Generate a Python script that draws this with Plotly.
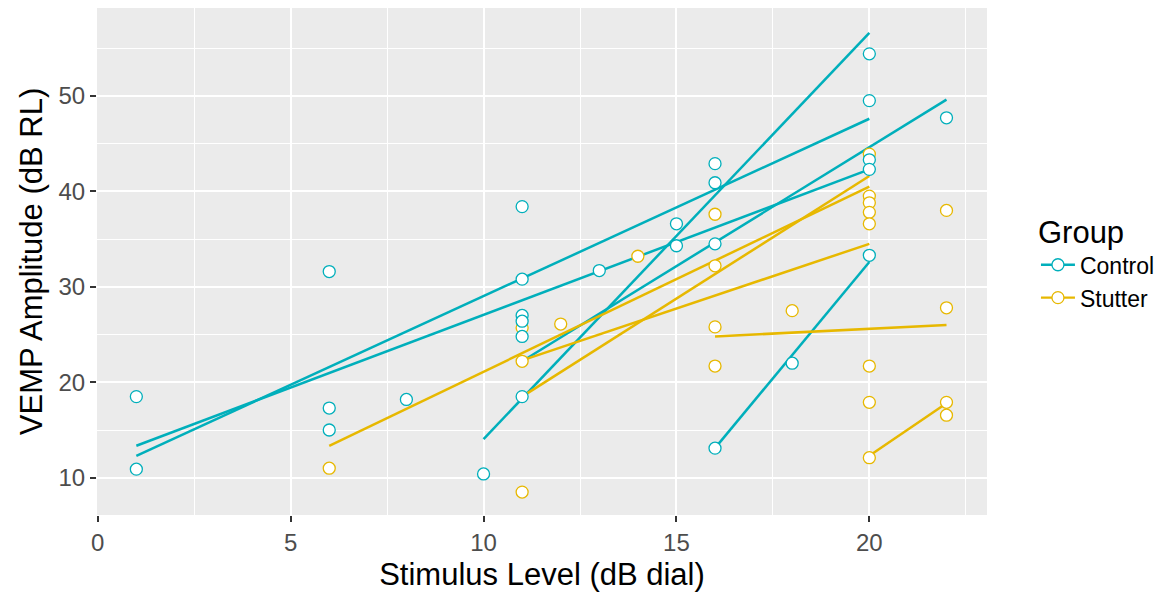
import plotly.graph_objects as go

# ---- data ----
control_x = [1, 1, 6, 6, 6, 8, 10, 11, 11, 11, 11, 11, 11, 13, 15, 15, 16, 16, 16, 16, 18, 20, 20, 20, 20, 20, 22]
control_y = [18.5, 10.9, 31.6, 17.3, 15.0, 18.2, 10.4, 38.4, 30.8, 27.0, 26.4, 24.8, 18.5, 31.7, 36.6, 34.3,
             42.9, 40.9, 34.5, 13.1, 22.0, 54.4, 49.5, 43.3, 42.3, 33.3, 47.7]

stutter_x = [6, 11, 11, 11, 12, 14, 16, 16, 16, 16, 18, 20, 20, 20, 20, 20, 20, 20, 20, 22, 22, 22, 22]
stutter_y = [11.0, 8.5, 22.2, 25.7, 26.1, 33.2, 37.6, 32.2, 25.8, 21.7, 27.5, 43.9, 39.5, 38.8, 37.8, 36.6,
             21.7, 17.9, 12.1, 38.0, 27.8, 17.9, 16.55]

# per-subject fitted lines (start / end)
control_line_x0 = [1, 1, 10, 11, 16]
control_line_y0 = [12.3, 13.35, 14.05, 22.2, 13.1]
control_line_x1 = [20, 20, 20, 22, 20]
control_line_y1 = [47.6, 42.3, 56.6, 49.6, 32.6]

stutter_line_x0 = [6, 11, 11, 16, 20]
stutter_line_y0 = [13.35, 18.5, 22.3, 24.8, 12.3]
stutter_line_x1 = [20, 20, 20, 22, 22]
stutter_line_y1 = [40.5, 41.6, 34.5, 26.0, 17.8]

groups = ["Control", "Stutter"]
colors = {"Control": "#00AFBB", "Stutter": "#E7B800"}

x_ticks = [0, 5, 10, 15, 20]
y_ticks = [10, 20, 30, 40, 50]

FONT = "Liberation Sans, Arial, Helvetica, sans-serif"


def segs(x0, y0, x1, y1):
    xs, ys = [], []
    for a, b, c, d in zip(x0, y0, x1, y1):
        xs += [a, c, None]
        ys += [b, d, None]
    return xs, ys


fig = go.Figure()

line_data = {
    "Control": segs(control_line_x0, control_line_y0, control_line_x1, control_line_y1),
    "Stutter": segs(stutter_line_x0, stutter_line_y0, stutter_line_x1, stutter_line_y1),
}
point_data = {"Control": (control_x, control_y), "Stutter": (stutter_x, stutter_y)}

for g in groups:
    lx, ly = line_data[g]
    fig.add_trace(go.Scatter(x=lx, y=ly, mode="lines", line=dict(color=colors[g], width=2.5),
                             showlegend=False, legendgroup=g, hoverinfo="skip"))

# stutter points first so overlapping control points sit on top
for g in reversed(groups):
    px, py = point_data[g]
    fig.add_trace(go.Scatter(x=px, y=py, mode="markers",
                             marker=dict(size=12, color="white", line=dict(color=colors[g], width=1.3)),
                             showlegend=False, legendgroup=g, name=g))

# legend entries (point + line key, like ggplot)
for g in groups:
    fig.add_trace(go.Scatter(x=[None], y=[None], mode="lines+markers", name=g, legendgroup=g,
                             line=dict(color=colors[g], width=2.4),
                             marker=dict(size=12, color="white", line=dict(color=colors[g], width=1.3))))

axis_common = dict(
    showgrid=True, gridcolor="white", gridwidth=2,
    zeroline=False, showline=False,
    ticks="outside", ticklen=6, tickwidth=2, tickcolor="#333333",
    tickfont=dict(family=FONT, size=24, color="#4D4D4D"),
    minor=dict(showgrid=True, gridcolor="white", gridwidth=1),
)

fig.update_xaxes(**axis_common, range=[-0.02, 23.05], tickvals=x_ticks, dtick=5,
                 title=dict(text="Stimulus Level (dB dial)", font=dict(family=FONT, size=31, color="black"),
                            standoff=8))
fig.update_yaxes(**axis_common, range=[6.1, 59.2], tickvals=y_ticks, dtick=10,
                 title=dict(text="VEMP Amplitude (dB RL)", font=dict(family=FONT, size=31, color="black"),
                            standoff=6))
fig.update_xaxes(minor=dict(tick0=2.5, dtick=5))
fig.update_yaxes(minor=dict(tick0=5, dtick=10))

# page body has an 8px margin: size the figure so the panel lands where the reference has it
fig.update_layout(
    width=1157, height=585,
    margin=dict(l=89, r=178, t=0, b=78, autoexpand=False),
    plot_bgcolor="#EBEBEB", paper_bgcolor="white",
    font=dict(family=FONT),
    legend=dict(x=1.055, xanchor="left", y=0.5, yanchor="middle",
                title=dict(text="Group", font=dict(family=FONT, size=31, color="black")),
                font=dict(family=FONT, size=23, color="black"),
                bgcolor="rgba(0,0,0,0)", itemwidth=34, tracegroupgap=0),
)

fig.write_html("out.html")
